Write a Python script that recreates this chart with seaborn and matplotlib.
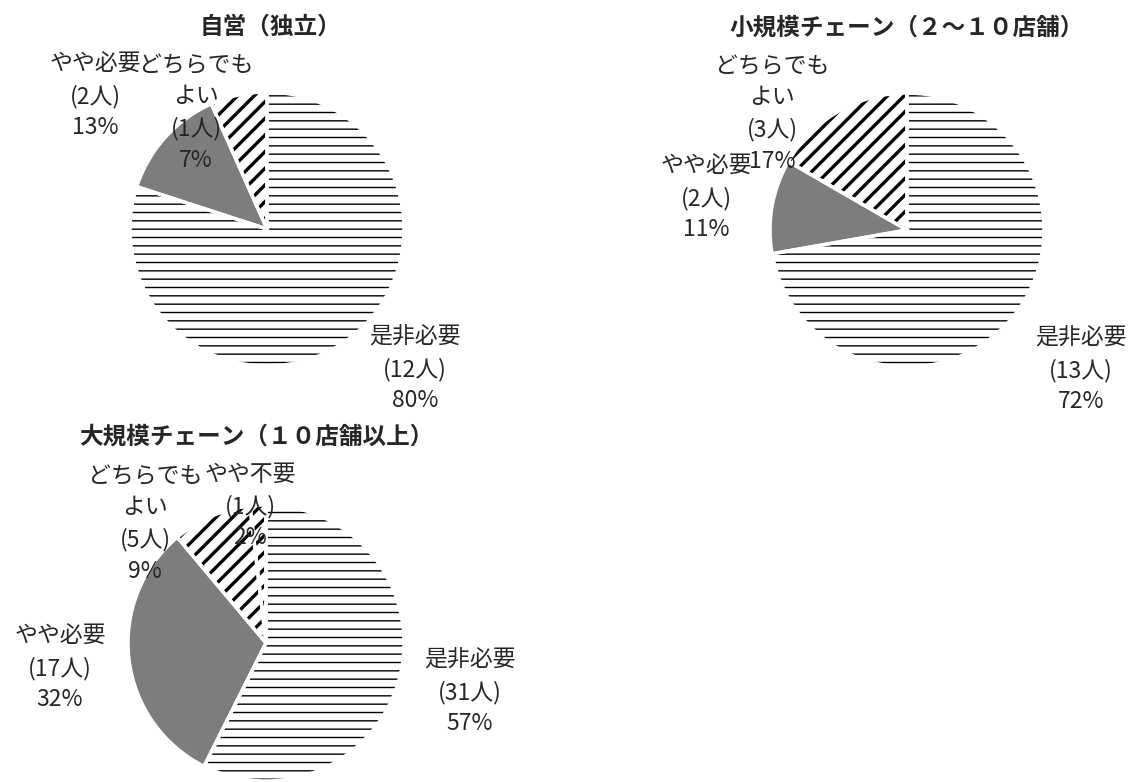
import matplotlib.pyplot as plt
import seaborn as sns

# 画像サイズ (px)
W, H = 1137, 782

# データ
answers = ['是非必要', 'やや必要', 'どちらでも\nよい', 'やや不要']
titles = ['自営（独立）', '小規模チェーン（２〜１０店舗）', '大規模チェーン（１０店舗以上）']
counts_solo = [12, 2, 1]
counts_small = [13, 2, 3]
counts_large = [31, 17, 5, 1]
pct_solo = [80, 13, 7]
pct_small = [72, 11, 17]
pct_large = [57, 32, 9, 2]

# レイアウト (画像座標、y は下向き)
pie_centers = [(267, 229), (907, 230), (266, 643)]
pie_radius = [137, 137, 138]
title_pos = [(270, 27), (907, 28), (256, 437)]
label_pos = [
    [(415, 369), (95, 96), (196, 113)],
    [(1081, 370), (706, 198), (772, 114)],
    [(470, 692), (60, 668), (145, 524), (250, 506)],
]

# 塗り分け
faces = ['white', '#7d7d7d', 'white', 'white']
hatches = ['--', '', '//', '//']
hatch_lw = [1.0, 0.5, 2.4, 2.4]


def draw_pie(ax, counts, pcts, title, center, r, tpos, lpos):
    n = len(counts)
    cx, cy = center[0], H - center[1]
    wedges, _ = ax.pie(counts, startangle=90, counterclock=False,
                       center=(cx, cy), radius=r, colors=faces[:n],
                       wedgeprops=dict(edgecolor='black', linewidth=0))
    for w, hp, lw in zip(wedges, hatches, hatch_lw):
        w.set_hatch(hp)
        if hasattr(w, 'set_hatch_linewidth'):
            w.set_hatch_linewidth(lw)
    # 扇形の間の白い区切り線
    ax.pie(counts, startangle=90, counterclock=False, center=(cx, cy),
           radius=r, colors=['none'] * n,
           wedgeprops=dict(edgecolor='white', linewidth=2.5))

    ax.text(tpos[0], H - tpos[1], title, ha='center', va='center',
            fontsize=17, fontweight='bold', zorder=6)
    for i in range(n):
        txt = f"{answers[i]}\n({counts[i]}人)\n{pcts[i]}%"
        ax.text(lpos[i][0], H - lpos[i][1], txt, ha='center', va='center',
                fontsize=16.5, linespacing=1.45, zorder=6)


sns.set_theme(style="white")
plt.rcParams['font.family'] = ['Noto Sans CJK JP', 'DejaVu Sans']
plt.rcParams['hatch.linewidth'] = 2.0

fig = plt.figure(figsize=(W / 100, H / 100), dpi=100)
ax = fig.add_axes([0, 0, 1, 1])

data = [(counts_solo, pct_solo), (counts_small, pct_small), (counts_large, pct_large)]
for k, (c, p) in enumerate(data):
    draw_pie(ax, c, p, titles[k], pie_centers[k], pie_radius[k], title_pos[k], label_pos[k])

ax.set_xlim(0, W)
ax.set_ylim(0, H)
ax.set_aspect('equal')
ax.axis('off')

fig.savefig("out.png", dpi=100)
